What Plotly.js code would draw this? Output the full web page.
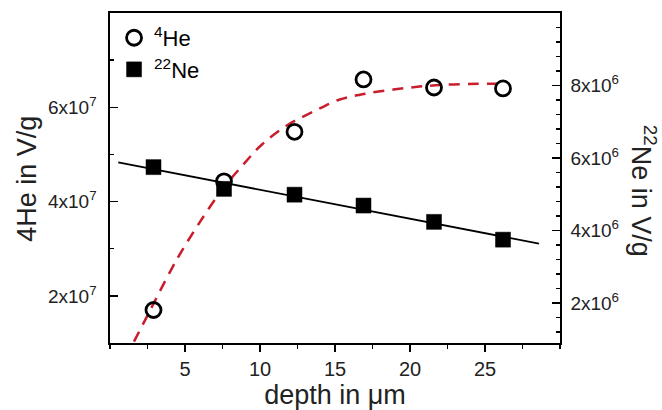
<!DOCTYPE html>
<html>
<head>
<meta charset="utf-8">
<script src="https://cdn.plot.ly/plotly-3.0.1.min.js"></script>
<style>html,body{margin:0;padding:0;background:#fff;}#chart{width:662px;height:410px;}</style>
</head>
<body>
<div id="chart"></div>
<script>
// measured data
const depth = [2.9, 7.6, 12.3, 16.9, 21.6, 26.2];
const he4 = [1.70e7, 4.43e7, 5.48e7, 6.59e7, 6.42e7, 6.40e7];
const ne22 = [5.75e6, 5.15e6, 4.99e6, 4.69e6, 4.24e6, 3.75e6];
// fitted line for Ne (read endpoints)
const neFitX = [0.55, 28.6];
const neFitY = [5.88e6, 3.64e6];
// fitted curve for He
const heFitX = [1.60, 2.67, 4.0, 4.8, 6.0, 7.47, 8.87, 10.13, 11.87, 13.57, 15.27, 17.24, 19.79, 22.33, 26.33];
const heFitY = [1.03e7, 1.69e7, 2.51e7, 2.96e7, 3.57e7, 4.25e7, 4.78e7, 5.21e7, 5.63e7, 5.91e7, 6.16e7, 6.30e7, 6.41e7, 6.48e7, 6.50e7];
const xTicks = [5, 10, 15, 20, 25];
const leftTickVals = [2e7, 4e7, 6e7];
const leftTickText = ['2x10<sup>7</sup>', '4x10<sup>7</sup>', '6x10<sup>7</sup>'];
const rightTickVals = [2e6, 4e6, 6e6, 8e6];
const rightTickText = ['2x10<sup>6</sup>', '4x10<sup>6</sup>', '6x10<sup>6</sup>', '8x10<sup>6</sup>'];

const FONT = 'Liberation Sans, Arial, sans-serif';
const red = '#c81e2c';

const traces = [
  {x: heFitX, y: heFitY, mode: 'lines', line: {color: red, width: 2.5, dash: '11px,8px', shape: 'spline'}, showlegend: false, hoverinfo: 'skip', yaxis: 'y'},
  {x: neFitX, y: neFitY, mode: 'lines', line: {color: '#000', width: 1.8}, showlegend: false, hoverinfo: 'skip', yaxis: 'y2'},
  {x: depth, y: he4, mode: 'markers', name: '<sup>4</sup>He', legendgroup: 'a',
   marker: {symbol: 'circle-open', size: 15, color: '#000', line: {width: 2.8, color: '#000'}}, yaxis: 'y'},
  {x: depth, y: ne22, mode: 'markers', name: '<sup>22</sup>Ne', legendgroup: 'b',
   marker: {symbol: 'square', size: 15, color: '#000', line: {width: 0.5, color: '#000'}}, yaxis: 'y2'}
];

const layout = {
  width: 662, height: 410,
  margin: {l: 110, r: 102, t: 13, b: 67, pad: 0},
  paper_bgcolor: '#fff', plot_bgcolor: '#fff',
  font: {family: FONT, color: '#222', size: 19},
  showlegend: true,
  legend: {x: 0.009, y: 0.988, xanchor: 'left', yanchor: 'top', bgcolor: 'rgba(0,0,0,0)',
           font: {family: FONT, size: 22, color: '#000'}, tracegroupgap: 9, traceorder: 'normal'},
  xaxis: {
    range: [0, 30], showgrid: false, zeroline: false,
    showline: true, linecolor: '#000', linewidth: 1.6, mirror: true,
    ticks: 'outside', ticklen: 7, tickwidth: 1.4, tickcolor: '#000',
    tickvals: xTicks, ticktext: xTicks.map(String),
    tickfont: {family: FONT, size: 20, color: '#222'},
    minor: {dtick: 2.5, tick0: 0, ticks: 'outside', ticklen: 4, tickwidth: 1.4, tickcolor: '#000', showgrid: false},
    title: {text: 'depth in μm', font: {family: FONT, size: 27, color: '#222'}, standoff: 8},
    automargin: false
  },
  yaxis: {
    range: [1e7, 8e7], showgrid: false, zeroline: false,
    showline: true, linecolor: '#000', linewidth: 1.6,
    ticks: 'inside', ticklen: 8, tickwidth: 1.4, tickcolor: '#000',
    tickvals: leftTickVals, ticktext: leftTickText,
    tickfont: {family: FONT, size: 19, color: '#222'},
    ticklabelstandoff: 8,
    minor: {dtick: 1e7, tick0: 0, ticks: 'inside', ticklen: 4, tickwidth: 1.4, tickcolor: '#000', showgrid: false},
    automargin: false
  },
  yaxis2: {
    range: [0.9e6, 1.0e7], overlaying: 'y', side: 'right', showgrid: false, zeroline: false,
    showline: true, linecolor: '#000', linewidth: 1.6,
    ticks: 'inside', ticklen: 8, tickwidth: 1.4, tickcolor: '#000',
    tickvals: rightTickVals, ticktext: rightTickText,
    tickfont: {family: FONT, size: 19, color: '#222'},
    ticklabelstandoff: 5,
    minor: {dtick: 4e5, tick0: 0, ticks: 'inside', ticklen: 4, tickwidth: 1.4, tickcolor: '#000', showgrid: false},
    automargin: false
  },
  annotations: [
    {text: '4He in V/g', xref: 'paper', yref: 'paper', x: (27 - 110) / 450, y: (343.3 - 179) / 330,
     xanchor: 'center', yanchor: 'middle', showarrow: false, textangle: -90,
     font: {family: FONT, size: 27, color: '#222'}},
    {text: '<sup>22</sup>Ne in V/g', xref: 'paper', yref: 'paper', x: (644 - 110) / 450, y: (343.3 - 191) / 330,
     xanchor: 'center', yanchor: 'middle', showarrow: false, textangle: 90,
     font: {family: FONT, size: 27, color: '#222'}}
  ]
};

Plotly.newPlot('chart', traces, layout, {displayModeBar: false, staticPlot: true});
</script>
</body>
</html>
